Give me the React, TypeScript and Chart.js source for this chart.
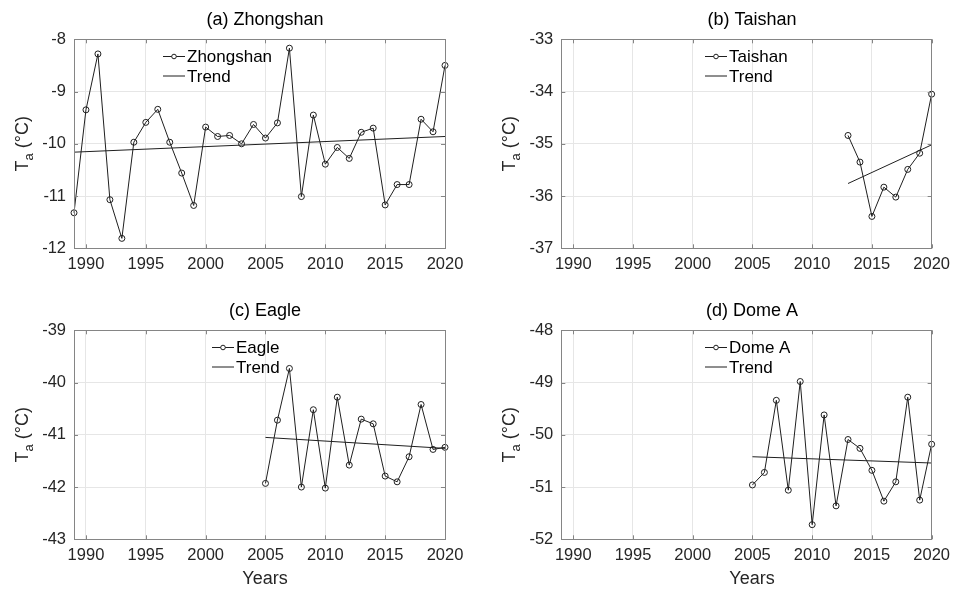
import React, { useEffect, useRef } from "react";
import { Chart, registerables } from "chart.js";

Chart.register(...registerables);

const FONT = "'Liberation Sans', Arial, Helvetica, sans-serif";

// ---------- data ----------
const xTicks = [1990, 1995, 2000, 2005, 2010, 2015, 2020];
const xMin = 1989;
const xMax = 2020;

const zhongshanYears = [
  1989, 1990, 1991, 1992, 1993, 1994, 1995, 1996, 1997, 1998, 1999, 2000, 2001, 2002, 2003, 2004,
  2005, 2006, 2007, 2008, 2009, 2010, 2011, 2012, 2013, 2014, 2015, 2016, 2017, 2018, 2019, 2020,
];
const zhongshanTa = [
  -11.32, -9.35, -8.28, -11.07, -11.81, -9.97, -9.59, -9.34, -9.97, -10.56, -11.18, -9.68, -9.86,
  -9.84, -10.0, -9.63, -9.89, -9.6, -8.17, -11.01, -9.45, -10.39, -10.07, -10.28, -9.78, -9.7,
  -11.17, -10.78, -10.78, -9.53, -9.77, -8.5,
];
const zhongshanTrendYears = [1989, 2020];
const zhongshanTrend = [-10.16, -9.86];
const zhongshanYTicks = [-12, -11, -10, -9, -8];

const taishanYears = [2013, 2014, 2015, 2016, 2017, 2018, 2019, 2020];
const taishanTa = [-34.84, -35.35, -36.39, -35.83, -36.02, -35.49, -35.18, -34.05];
const taishanTrendYears = [2013, 2020];
const taishanTrend = [-35.76, -35.02];
const taishanYTicks = [-37, -36, -35, -34, -33];

const eagleYears = [
  2005, 2006, 2007, 2008, 2009, 2010, 2011, 2012, 2013, 2014, 2015, 2016, 2017, 2018, 2019, 2020,
];
const eagleTa = [
  -41.93, -40.72, -39.73, -42.0, -40.52, -42.02, -40.28, -41.58, -40.7, -40.79, -41.79, -41.9,
  -41.42, -40.42, -41.28, -41.24,
];
const eagleTrendYears = [2005, 2020];
const eagleTrend = [-41.05, -41.26];
const eagleYTicks = [-43, -42, -41, -40, -39];

const domeAYears = [
  2005, 2006, 2007, 2008, 2009, 2010, 2011, 2012, 2013, 2014, 2015, 2016, 2017, 2018, 2019, 2020,
];
const domeATa = [
  -50.96, -50.72, -49.34, -51.06, -48.98, -51.72, -49.62, -51.36, -50.09, -50.26, -50.68, -51.27,
  -50.9, -49.28, -51.25, -50.18,
];
const domeATrendYears = [2005, 2020];
const domeATrend = [-50.42, -50.54];
const domeAYTicks = [-52, -51, -50, -49, -48];

// ---------- layout / style ----------
const W = 478;
const H = 297;
const LINE = "#1f1f1f";
const AXIS = "#858585";

type Panel = {
  title: string;
  name: string;
  years: number[];
  values: number[];
  trendYears: number[];
  trendValues: number[];
  yTicks: number[];
  xLabel: boolean;
  left: number;
  top: number;
  area: { l: number; t: number; r: number; b: number };
  legendX: number;
  legendY: number;
};

const panels: Panel[] = [
  {
    title: "(a) Zhongshan",
    name: "Zhongshan",
    years: zhongshanYears,
    values: zhongshanTa,
    trendYears: zhongshanTrendYears,
    trendValues: zhongshanTrend,
    yTicks: zhongshanYTicks,
    xLabel: false,
    left: 0,
    top: 0,
    area: { l: 74, t: 39.3, r: 445, b: 248.3 },
    legendX: 163,
    legendY: 56.5,
  },
  {
    title: "(b) Taishan",
    name: "Taishan",
    years: taishanYears,
    values: taishanTa,
    trendYears: taishanTrendYears,
    trendValues: taishanTrend,
    yTicks: taishanYTicks,
    xLabel: false,
    left: 478,
    top: 0,
    area: { l: 83.3, t: 39.3, r: 455, b: 248.3 },
    legendX: 227,
    legendY: 56.5,
  },
  {
    title: "(c) Eagle",
    name: "Eagle",
    years: eagleYears,
    values: eagleTa,
    trendYears: eagleTrendYears,
    trendValues: eagleTrend,
    yTicks: eagleYTicks,
    xLabel: true,
    left: 0,
    top: 297,
    area: { l: 74, t: 33.3, r: 445, b: 242.3 },
    legendX: 212,
    legendY: 50.5,
  },
  {
    title: "(d) Dome A",
    name: "Dome A",
    years: domeAYears,
    values: domeATa,
    trendYears: domeATrendYears,
    trendValues: domeATrend,
    yTicks: domeAYTicks,
    xLabel: true,
    left: 478,
    top: 297,
    area: { l: 83.3, t: 33.3, r: 455.7, b: 242.3 },
    legendX: 227,
    legendY: 50.5,
  },
];

function makeDecor(p: Panel) {
  return {
    id: "decor",
    afterDraw(chart: any) {
      const ctx: CanvasRenderingContext2D = chart.ctx;
      const a = chart.chartArea;
      const xs = chart.scales.x;
      const ys = chart.scales.y;
      ctx.save();

      // box
      ctx.strokeStyle = AXIS;
      ctx.lineWidth = 1;
      ctx.strokeRect(Math.round(a.left) + 0.5, Math.round(a.top) + 0.5, Math.round(a.right - a.left), Math.round(a.bottom - a.top));

      // inward ticks
      const tl = 4;
      ctx.beginPath();
      xTicks.forEach((v) => {
        const px = Math.round(xs.getPixelForValue(v)) + 0.5;
        ctx.moveTo(px, a.bottom);
        ctx.lineTo(px, a.bottom - tl);
        ctx.moveTo(px, a.top);
        ctx.lineTo(px, a.top + tl);
      });
      p.yTicks.forEach((v) => {
        const py = Math.round(ys.getPixelForValue(v)) + 0.5;
        ctx.moveTo(a.left, py);
        ctx.lineTo(a.left + tl, py);
        ctx.moveTo(a.right, py);
        ctx.lineTo(a.right - tl, py);
      });
      ctx.stroke();

      const cx = (a.left + a.right) / 2 + 5.5;

      // title
      ctx.fillStyle = "#000";
      ctx.font = `18px ${FONT}`;
      ctx.textAlign = "center";
      ctx.textBaseline = "middle";
      ctx.fillText(p.title, cx, a.top - 19.5);

      // x label
      if (p.xLabel) {
        ctx.fillStyle = "#262626";
        ctx.fillText("Years", cx, a.bottom + 40);
      }

      // y label: T_a (°C)
      ctx.save();
      const midY = (a.top + a.bottom) / 2;
      ctx.translate(a.left - 46, midY);
      ctx.rotate(-Math.PI / 2);
      ctx.fillStyle = "#262626";
      ctx.textAlign = "left";
      ctx.textBaseline = "alphabetic";
      ctx.font = `18px ${FONT}`;
      const wT = ctx.measureText("T").width;
      const wRest = ctx.measureText(" (°C)").width;
      ctx.font = `13px ${FONT}`;
      const wa = ctx.measureText("a").width;
      const total = wT + wa + wRest;
      let x0 = -total / 2;
      ctx.font = `18px ${FONT}`;
      ctx.fillText("T", x0, 0);
      x0 += wT;
      ctx.font = `13px ${FONT}`;
      ctx.fillText("a", x0, 5);
      x0 += wa;
      ctx.font = `18px ${FONT}`;
      ctx.fillText(" (°C)", x0, 0);
      ctx.restore();

      // legend
      const lx = p.legendX;
      const ly = p.legendY;
      const gap = 19.5;
      ctx.strokeStyle = LINE;
      ctx.lineWidth = 1;
      ctx.beginPath();
      ctx.moveTo(lx, ly);
      ctx.lineTo(lx + 22, ly);
      ctx.moveTo(lx, ly + gap);
      ctx.lineTo(lx + 22, ly + gap);
      ctx.stroke();
      ctx.beginPath();
      ctx.fillStyle = "#fff";
      ctx.arc(lx + 11, ly, 2.3, 0, Math.PI * 2);
      ctx.fill();
      ctx.stroke();
      ctx.fillStyle = "#000";
      ctx.font = `17px ${FONT}`;
      ctx.textAlign = "left";
      ctx.textBaseline = "middle";
      ctx.fillText(p.name, lx + 24, ly + 1);
      ctx.fillText("Trend", lx + 24, ly + gap + 1);

      ctx.restore();
    },
  };
}

function PanelChart({ p }: { p: Panel }) {
  const ref = useRef<HTMLCanvasElement>(null);
  useEffect(() => {
    if (!ref.current) return;
    const tickFont = { family: FONT, size: 16.5 };
    const chart = new Chart(ref.current, {
      type: "line",
      data: {
        datasets: [
          {
            label: p.name,
            data: p.years.map((x, i) => ({ x, y: p.values[i] })),
            borderColor: LINE,
            borderWidth: 1,
            pointRadius: 3,
            pointBorderWidth: 1,
            pointBackgroundColor: "rgba(255,255,255,0)",
            pointBorderColor: LINE,
            tension: 0,
            fill: false,
            clip: false as any,
          },
          {
            label: "Trend",
            data: p.trendYears.map((x, i) => ({ x, y: p.trendValues[i] })),
            borderColor: LINE,
            borderWidth: 1,
            pointRadius: 0,
            tension: 0,
            fill: false,
            clip: false as any,
          },
        ],
      },
      options: {
        responsive: false,
        maintainAspectRatio: false,
        animation: false,
        devicePixelRatio: 1,
        layout: { padding: { left: 0, top: p.area.t, right: W - p.area.r, bottom: 0 } },
        plugins: {
          legend: { display: false },
          tooltip: { enabled: false },
          title: { display: false },
        },
        scales: {
          x: {
            type: "linear",
            min: xMin,
            max: xMax,
            afterBuildTicks: (s: any) => {
              s.ticks = xTicks.map((v) => ({ value: v }));
            },
            afterFit: (s: any) => {
              s.height = H - p.area.b;
            },
            grid: { color: "#e6e6e6", drawTicks: false, lineWidth: 1 },
            border: { display: false },
            ticks: {
              padding: 6,
              font: tickFont,
              color: "#262626",
              maxRotation: 0,
              autoSkip: false,
              callback: (v: any) => String(v),
            },
          },
          y: {
            type: "linear",
            min: p.yTicks[0],
            max: p.yTicks[p.yTicks.length - 1],
            afterBuildTicks: (s: any) => {
              s.ticks = p.yTicks.map((v) => ({ value: v }));
            },
            afterFit: (s: any) => {
              s.width = p.area.l;
            },
            grid: { color: "#e6e6e6", drawTicks: false, lineWidth: 1 },
            border: { display: false },
            ticks: {
              padding: 8,
              font: tickFont,
              color: "#262626",
              autoSkip: false,
              callback: (v: any) => String(v),
            },
          },
        },
      } as any,
      plugins: [makeDecor(p)],
    });
    return () => chart.destroy();
  }, [p]);
  return (
    <canvas
      ref={ref}
      width={W}
      height={H}
      style={{ position: "absolute", left: p.left, top: p.top, width: W, height: H }}
    />
  );
}

export default function App() {
  return (
    <div
      style={{
        position: "absolute",
        left: 0,
        top: 0,
        width: 956,
        height: 594,
        background: "#fff",
        overflow: "hidden",
      }}
    >
      {panels.map((p) => (
        <PanelChart key={p.title} p={p} />
      ))}
    </div>
  );
}
